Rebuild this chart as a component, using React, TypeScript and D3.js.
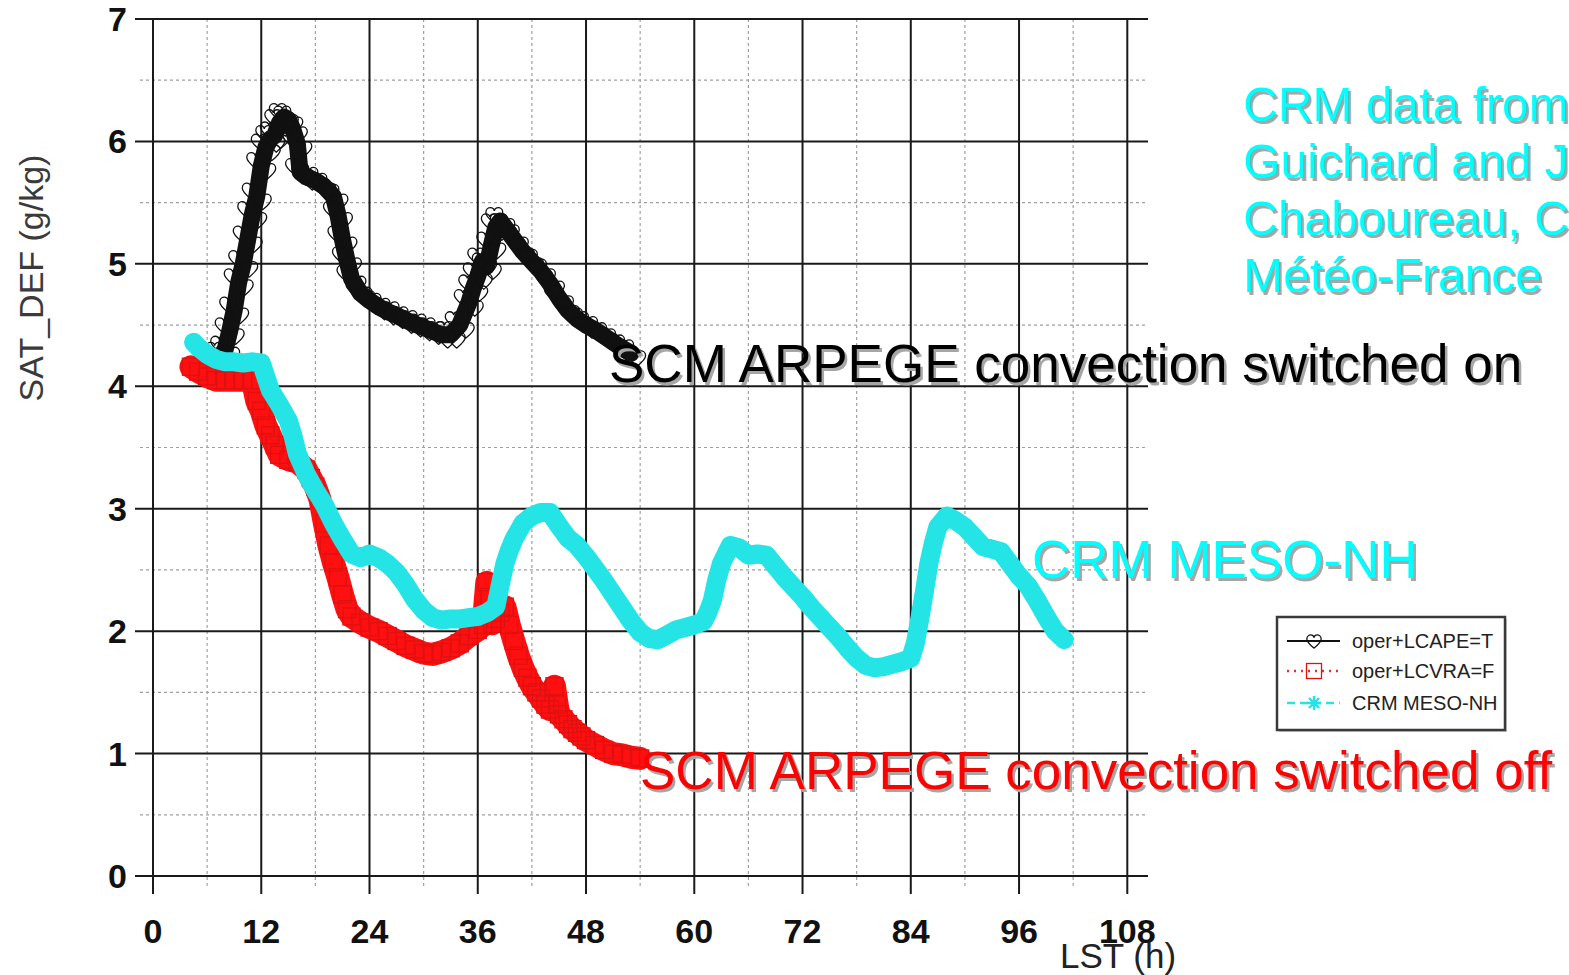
import React from "react";
import * as d3 from "d3";

type Pt = [number, number];

// Axis ticks
const X_TICKS = [0, 12, 24, 36, 48, 60, 72, 84, 96, 108];
const X_MINOR = [6, 18, 30, 42, 54, 66, 78, 90, 102];
const Y_TICKS = [0, 1, 2, 3, 4, 5, 6, 7];
const Y_MINOR = [0.5, 1.5, 2.5, 3.5, 4.5, 5.5, 6.5];

// SCM ARPEGE, convection switched on (oper+LCAPE=T): [LST h, SAT_DEF g/kg]
const convOn: Pt[] = [
  [7.5, 4.25], [8, 4.3], [8.5, 4.45], [9, 4.62], [9.5, 4.85], [10, 5.0], [10.5, 5.2],
  [11, 5.4], [11.5, 5.55], [12, 5.8], [12.5, 5.95], [13, 6.02], [13.5, 6.05], [14, 6.15],
  [14.5, 6.2], [15, 6.18], [15.5, 6.1], [16, 5.98], [16.3, 5.75], [17, 5.71], [18, 5.68],
  [19, 5.63], [20, 5.55], [20.5, 5.4], [21, 5.2], [21.5, 5.03], [22, 4.88], [23, 4.76],
  [24, 4.7], [25, 4.65], [26, 4.61], [27, 4.58], [28, 4.54], [29, 4.51], [30, 4.48],
  [31, 4.45], [32, 4.42], [33, 4.42], [34, 4.5], [35, 4.68], [35.5, 4.8], [36, 4.9],
  [36.5, 5.02], [37, 4.98], [37.5, 5.15], [38, 5.3], [38.5, 5.35], [39, 5.3], [40, 5.2],
  [41, 5.1], [42, 5.02], [43, 4.94], [44, 4.84], [45, 4.72], [46, 4.62], [47, 4.55],
  [48, 4.5], [49, 4.46], [50, 4.41], [51, 4.36], [52, 4.31], [53, 4.27],
];

// SCM ARPEGE, convection switched off (oper+LCVRA=F)
const convOff: Pt[] = [
  [4.2, 4.16], [5, 4.12], [6, 4.08], [7, 4.05], [8, 4.05], [9, 4.05], [10, 4.05], [11, 4.05],
  [11.5, 3.88], [12, 3.8], [12.5, 3.68], [13, 3.6], [13.5, 3.52], [14, 3.44], [15, 3.4],
  [16, 3.38], [17, 3.32], [17.5, 3.25], [18, 3.18], [18.5, 3.08], [19, 2.88], [19.5, 2.7],
  [20, 2.56], [20.5, 2.44], [21, 2.3], [21.5, 2.18], [22, 2.12], [23, 2.07], [24, 2.03],
  [25, 2.0], [26, 1.96], [27, 1.92], [28, 1.88], [29, 1.85], [30, 1.82], [31, 1.81],
  [32, 1.83], [33, 1.86], [34, 1.9], [35, 1.96], [36, 2.01], [36.6, 2.05], [37, 2.4],
  [37.3, 2.28], [37.6, 2.06], [38, 2.1], [38.5, 2.15], [39, 2.2], [39.5, 2.05], [40, 1.92],
  [40.5, 1.8], [41, 1.7], [41.5, 1.62], [42, 1.55], [42.5, 1.5], [43, 1.45], [43.5, 1.4],
  [44, 1.36], [44.5, 1.55], [44.8, 1.4], [45, 1.32], [45.5, 1.28], [46, 1.24], [46.5, 1.2],
  [47, 1.17], [47.5, 1.14], [48, 1.11], [49, 1.07], [50, 1.03], [51, 1.0], [52, 0.99],
  [53, 0.97], [54, 0.96],
];

// CRM MESO-NH
const mesoNH: Pt[] = [
  [4.5, 4.36], [5, 4.32], [6, 4.26], [7, 4.22], [8, 4.2], [9, 4.2], [10, 4.19], [11, 4.2],
  [12, 4.19], [12.5, 4.08], [13, 3.97], [14, 3.85], [15, 3.72], [15.5, 3.6], [16, 3.45],
  [17, 3.28], [18, 3.15], [19, 3.03], [20, 2.88], [21, 2.75], [22, 2.63], [23, 2.6],
  [24, 2.63], [25, 2.6], [26, 2.55], [27, 2.48], [28, 2.38], [29, 2.26], [30, 2.17],
  [31, 2.11], [32, 2.09], [33, 2.1], [34, 2.1], [35, 2.11], [36, 2.12], [37, 2.15],
  [38, 2.2], [38.5, 2.38], [39, 2.55], [39.5, 2.66], [40, 2.75], [41, 2.88], [42, 2.94],
  [43, 2.97], [44, 2.97], [45, 2.86], [46, 2.76], [47, 2.7], [48, 2.61], [49, 2.51],
  [50, 2.41], [51, 2.3], [52, 2.19], [53, 2.08], [54, 1.99], [55, 1.94], [56, 1.93],
  [57, 1.97], [58, 2.01], [59, 2.03], [60, 2.05], [61, 2.08], [61.5, 2.15], [62, 2.25],
  [62.5, 2.42], [63, 2.55], [64, 2.7], [65, 2.68], [66, 2.62], [67, 2.63], [68, 2.62],
  [69, 2.53], [70, 2.44], [71, 2.36], [72, 2.28], [73, 2.19], [74, 2.11], [75, 2.03],
  [76, 1.95], [77, 1.86], [78, 1.78], [79, 1.72], [80, 1.7], [81, 1.71], [82, 1.73],
  [83, 1.75], [84, 1.78], [84.5, 1.9], [85, 2.1], [85.5, 2.32], [86, 2.55], [86.5, 2.72],
  [87, 2.85], [88, 2.94], [89, 2.9], [90, 2.85], [91, 2.77], [92, 2.69], [93, 2.67],
  [94, 2.65], [95, 2.55], [96, 2.45], [97, 2.37], [98, 2.25], [99, 2.12], [100, 2.0],
  [101, 1.93],
];

const LEGEND_LABELS = ["oper+LCAPE=T", "oper+LCVRA=F", "CRM MESO-NH"];
const NOTE_LINES = ["CRM data from", "Guichard and J", "Chaboureau, C", "Météo-France"];

const W = 1569;
const H = 975;
const FONT = "'Liberation Sans', Arial, Helvetica, sans-serif";

const x = d3.scaleLinear().domain([0, 108]).range([153, 1127.3]);
const y = d3.scaleLinear().domain([0, 7]).range([876, 19]);
const PLOT_RIGHT = 1148;

const BLACK = "#111111";
const RED = "#ff1010";
const CYAN = "#25e4e6";

const line = d3
  .line<Pt>()
  .x((d) => x(d[0]))
  .y((d) => y(d[1]))
  .curve(d3.curveLinear);

const HEART =
  "M0,5.5 C-3,3 -6.5,0.2 -6.5,-2.6 C-6.5,-5.3 -4.4,-6.4 -3,-6.4 C-1.5,-6.4 -0.3,-5.4 0,-3.9 C0.3,-5.4 1.5,-6.4 3,-6.4 C4.4,-6.4 6.5,-5.3 6.5,-2.6 C6.5,0.2 3,3 0,5.5 Z";
const STAR = "M-9,0H9M0,-9V9M-6.4,-6.4L6.4,6.4M-6.4,6.4L6.4,-6.4";

function Heart({ cx, cy, k = 1.3 }: { cx: number; cy: number; k?: number }) {
  return (
    <path
      d={HEART}
      transform={`translate(${cx},${cy}) scale(${k})`}
      fill="none"
      stroke={BLACK}
      strokeWidth={1.3 / k}
    />
  );
}
function Square({ cx, cy, s = 17 }: { cx: number; cy: number; s?: number }) {
  return (
    <rect x={cx - s / 2} y={cy - s / 2} width={s} height={s} fill="none" stroke="#e01010" strokeWidth={1.3} />
  );
}
function Star({ cx, cy }: { cx: number; cy: number }) {
  return <path d={STAR} transform={`translate(${cx},${cy})`} stroke={CYAN} strokeWidth={2.6} fill="none" />;
}

function ShadowText({
  x: tx,
  y: ty,
  size,
  fill,
  children,
}: {
  x: number;
  y: number;
  size: number;
  fill: string;
  children: React.ReactNode;
}) {
  return (
    <g fontFamily={FONT} fontSize={size}>
      <text x={tx + 2.5} y={ty + 2.5} fill="#a6a6a6">
        {children}
      </text>
      <text x={tx} y={ty} fill={fill}>
        {children}
      </text>
    </g>
  );
}

export default function App() {
  return (
    <svg
      width={W}
      height={H}
      viewBox={`0 0 ${W} ${H}`}
      style={{ position: "absolute", left: 0, top: 0, background: "#ffffff", display: "block" }}
    >
      <rect x={0} y={0} width={W} height={H} fill="#ffffff" />

      {/* minor grid */}
      <g stroke="#a0a0a0" strokeWidth={1.2} strokeDasharray="3,3">
        {X_MINOR.map((t) => (
          <line key={`xm${t}`} x1={x(t)} x2={x(t)} y1={y(7)} y2={888} />
        ))}
        {Y_MINOR.map((v) => (
          <line key={`ym${v}`} x1={140} x2={PLOT_RIGHT} y1={y(v)} y2={y(v)} />
        ))}
      </g>

      {/* major grid with outward ticks */}
      <g stroke="#1a1a1a" strokeWidth={2}>
        {X_TICKS.map((t) => (
          <line key={`xt${t}`} x1={x(t)} x2={x(t)} y1={y(7)} y2={894} />
        ))}
        {Y_TICKS.map((v) => (
          <line key={`yt${v}`} x1={135} x2={PLOT_RIGHT} y1={y(v)} y2={y(v)} />
        ))}
      </g>

      {/* tick labels */}
      <g fontFamily={FONT} fontWeight="bold" fontSize={34} fill="#111">
        {Y_TICKS.map((v) => (
          <text key={`yl${v}`} x={127} y={y(v) + 12} textAnchor="end">
            {v}
          </text>
        ))}
        {X_TICKS.map((t) => (
          <text key={`xl${t}`} x={x(t)} y={943} textAnchor="middle">
            {t}
          </text>
        ))}
      </g>

      <text x={1060} y={968} fontFamily={FONT} fontSize={35} fill="#222">
        LST (h)
      </text>
      <text
        transform="translate(43,278) rotate(-90)"
        textAnchor="middle"
        fontFamily={FONT}
        fontSize={34}
        fill="#3a3a3a"
      >
        SAT_DEF (g/kg)
      </text>

      {/* convection on */}
      <path d={line(convOn) ?? ""} fill="none" stroke={BLACK} strokeWidth={17} strokeLinejoin="round" strokeLinecap="round" />
      {convOn.map((d, i) => (
        <Heart key={`h${i}`} cx={x(d[0]) - 6} cy={y(d[1]) - 5} />
      ))}
      {convOn.map((d, i) => (
        <Heart key={`h2${i}`} cx={x(d[0]) + 6} cy={y(d[1]) + 6} />
      ))}

      {/* convection off */}
      <path d={line(convOff) ?? ""} fill="none" stroke={RED} strokeWidth={23} strokeLinejoin="round" strokeLinecap="round" />
      {convOff.map((d, i) => (
        <Square key={`s${i}`} cx={x(d[0])} cy={y(d[1])} />
      ))}

      {/* CRM MESO-NH */}
      <path d={line(mesoNH) ?? ""} fill="none" stroke={CYAN} strokeWidth={19} strokeLinejoin="round" strokeLinecap="round" />
      {mesoNH.map((d, i) => (
        <Star key={`a${i}`} cx={x(d[0])} cy={y(d[1])} />
      ))}

      {/* legend */}
      <g>
        <rect x={1279} y={619} width={228} height={113} fill="#cfcfcf" />
        <rect x={1277} y={617} width={228} height={113} fill="#ffffff" stroke="#3a3a3a" strokeWidth={2.5} />
        <line x1={1287} x2={1340} y1={641} y2={641} stroke={BLACK} strokeWidth={2} />
        <Heart cx={1314} cy={642} k={1.1} />
        <line x1={1287} x2={1340} y1={671} y2={671} stroke="#e03030" strokeWidth={2.5} strokeDasharray="2,5" />
        <Square cx={1314} cy={671} s={15} />
        <line x1={1287} x2={1340} y1={703} y2={703} stroke={CYAN} strokeWidth={2.5} strokeDasharray="8,5" />
        <path d="M-7,0H7M0,-7V7M-5,-5L5,5M-5,5L5,-5" transform="translate(1314,703)" stroke={CYAN} strokeWidth={2.4} />
        <g fontFamily={FONT} fontSize={20} fill="#222">
          {LEGEND_LABELS.map((s, i) => (
            <text key={s} x={1352} y={[648, 678, 710][i]}>
              {s}
            </text>
          ))}
        </g>
      </g>

      {/* annotations */}
      {NOTE_LINES.map((s, i) => (
        <ShadowText key={s} x={1243} y={121 + i * 57} size={48} fill="#00ffff">
          {s}
        </ShadowText>
      ))}
      <ShadowText x={609} y={382} size={53} fill="#000000">
        SCM ARPEGE convection switched on
      </ShadowText>
      <ShadowText x={1032} y={578} size={53} fill="#00ffff">
        CRM MESO-NH
      </ShadowText>
      <ShadowText x={640} y={789} size={53} fill="#ff0000">
        SCM ARPEGE convection switched off
      </ShadowText>
    </svg>
  );
}
